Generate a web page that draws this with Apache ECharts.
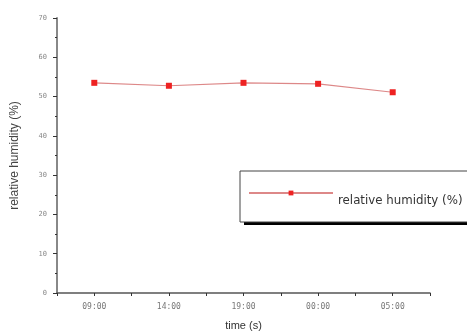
<!DOCTYPE html>
<html><head><meta charset="utf-8">
<script src="https://cdn.jsdelivr.net/npm/echarts@6/dist/echarts.min.js"></script>
<style>html,body{margin:0;padding:0;background:#fff}#c{width:467px;height:331px}</style>
</head><body><div id="c"></div>
<script>
var categories = ['09:00', '14:00', '19:00', '00:00', '05:00'];
var humidity = [53.5, 52.75, 53.5, 53.25, 51.1];
var seriesName = 'relative humidity (%)';
var xTitle = 'time (s)';

var chart = echarts.init(document.getElementById('c'));
var pts = humidity.map(function (v, i) { return [i, v]; });
chart.setOption({
  animation: false,
  grid: { left: 57, right: 37, top: 18, bottom: 38, outerBoundsMode: 'none', containLabel: false },
  graphic: [{
    type: 'rect', z: 1,
    shape: { x: 244, y: 177, width: 240, height: 48 },
    style: { fill: '#000' }
  }],
  xAxis: {
    type: 'value', min: -0.5, max: 4.5, interval: 0.5,
    name: xTitle, nameLocation: 'middle', nameGap: 27,
    nameTextStyle: { fontFamily: 'Liberation Sans', fontSize: 11, color: '#333' },
    axisLine: { onZero: false, lineStyle: { color: '#555', width: 1.5 } },
    axisTick: { inside: false, length: 3, lineStyle: { color: '#333' } },
    axisLabel: {
      fontFamily: 'DejaVu Sans Mono', fontSize: 8, color: '#777', margin: 10,
      formatter: function (v) {
        var r = Math.round(v);
        return Math.abs(v - r) < 1e-6 && r >= 0 && r < categories.length ? categories[r] : '';
      }
    },
    splitLine: { show: false }
  },
  yAxis: {
    type: 'value', min: 0, max: 70, interval: 10,
    name: seriesName, nameLocation: 'middle', nameGap: 36,
    nameTextStyle: { fontFamily: 'Liberation Sans', fontSize: 12, color: '#444' },
    axisLine: { show: true, onZero: false, lineStyle: { color: '#888', width: 2 } },
    axisTick: { show: true, length: 4, lineStyle: { color: '#333' } },
    minorTick: { show: true, splitNumber: 2, length: 2, lineStyle: { color: '#333' } },
    axisLabel: { fontFamily: 'DejaVu Sans Mono', fontSize: 7, color: '#888', margin: 10 },
    splitLine: { show: false }
  },
  legend: {
    left: 240, top: 171, z: 5,
    padding: [8, 40, 15, 8],
    backgroundColor: '#fff', borderColor: '#444', borderWidth: 1,
    itemWidth: 84, itemHeight: 6, itemGap: 4,
    formatter: '{a|{name}}',
    textStyle: {
      rich: { a: { fontFamily: 'DejaVu Sans', fontSize: 11.8, color: '#333', lineHeight: 14, padding: [16, 0, 0, 0] } }
    },
    data: [seriesName]
  },
  series: [{
    name: seriesName, type: 'line', data: pts,
    symbol: 'rect', symbolSize: 6,
    itemStyle: { color: '#ee2222' },
    lineStyle: { color: '#dd8888', width: 1.2 }
  }]
});
</script></body></html>
